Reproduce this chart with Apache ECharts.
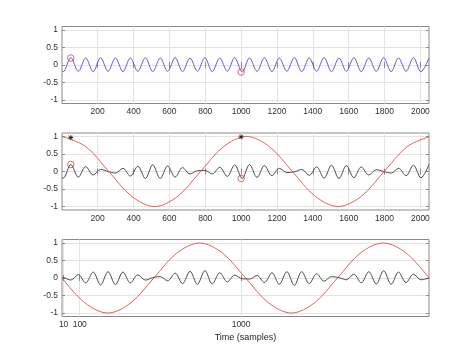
<!DOCTYPE html>
<html><head><meta charset="utf-8">
<script src="https://cdn.jsdelivr.net/npm/echarts@6/dist/echarts.min.js"></script>
<style>html,body{margin:0;padding:0;background:#fff}#c{width:474px;height:355px}</style>
</head><body><div id="c"></div>
<script>
// sample positions of the extrema of the fast oscillation
const sampleX = [1, 8, 50, 92, 133, 175, 216, 258, 299, 341, 382, 424, 466, 507, 549, 590, 632, 673, 715, 756, 798, 839, 881, 923, 964, 1006, 1047, 1089, 1130, 1172, 1213, 1255, 1297, 1338, 1380, 1421, 1463, 1504, 1546, 1587, 1629, 1670, 1712, 1754, 1795, 1837, 1878, 1920, 1961, 2003, 2048];
// panel 1: blue signal
const blueSignal = [-0.17, -0.19, 0.21, -0.18, 0.2, -0.19, 0.21, -0.18, 0.2, -0.19, 0.2, -0.18, 0.21, -0.19, 0.2, -0.18, 0.21, -0.19, 0.2, -0.18, 0.21, -0.19, 0.2, -0.18, 0.21, -0.2, 0.2, -0.18, 0.21, -0.19, 0.2, -0.18, 0.21, -0.19, 0.2, -0.18, 0.21, -0.19, 0.2, -0.18, 0.21, -0.19, 0.2, -0.18, 0.21, -0.19, 0.2, -0.18, 0.21, -0.19, 0.2];
// panel 2: black modulated signal
const black2 = [-0.17, -0.19, 0.2, -0.16, 0.14, -0.1, 0.06, 0, -0.045, 0.09, -0.13, 0.15, -0.2, 0.19, -0.2, 0.16, -0.16, 0.11, -0.07, 0.02, 0.03, -0.07, 0.12, -0.14, 0.19, -0.2, 0.2, -0.17, 0.17, -0.12, 0.09, -0.03, -0.01, 0.06, -0.11, 0.13, -0.19, 0.18, -0.2, 0.17, -0.18, 0.13, -0.1, 0.05, 0, -0.045, 0.09, -0.12, 0.18, -0.18, 0.2];
// panel 3: black modulated signal
const black3 = [0, 0.01, -0.06, 0.1, -0.14, 0.17, -0.2, 0.18, -0.19, 0.17, -0.14, 0.09, -0.06, 0.01, 0.04, -0.08, 0.14, -0.16, 0.19, -0.18, 0.21, -0.17, 0.15, -0.11, 0.08, -0.02, -0.03, 0.07, -0.13, 0.15, -0.18, 0.18, -0.21, 0.18, -0.16, 0.12, -0.09, 0.04, 0.01, -0.05, 0.11, -0.14, 0.18, -0.17, 0.21, -0.18, 0.17, -0.13, 0.11, -0.05, 0];
// red slow waves
const redX2 = [1, 134, 262, 390, 518, 646, 774, 902, 1030, 1158, 1286, 1414, 1542, 1670, 1798, 1926, 2048];
const red2 = [1, 0.71, 0, -0.71, -1, -0.71, 0, 0.71, 1, 0.71, 0, -0.71, -1, -0.71, 0, 0.71, 0.99];
const redX3 = [1, 129, 257, 385, 513, 641, 769, 897, 1025, 1153, 1281, 1409, 1537, 1665, 1793, 1921, 2048];
const red3 = [0, -0.71, -1, -0.71, 0, 0.71, 1, 0.71, 0, -0.71, -1, -0.71, 0, 0.71, 1, 0.71, 0];
// markers
const circleX = [50, 1000];
const circleY = [0.2, -0.2];
const starX = [50, 1000];
const starY = [0.97, 0.99];
// ticks
const xTicks = [200, 400, 600, 800, 1000, 1200, 1400, 1600, 1800, 2000];
const xTicks3 = [10, 100, 1000];
const yTicks = [-1, -0.5, 0, 0.5, 1];
const xLabel = 'Time (samples)';

const pairs = (xs, ys) => xs.map((x, i) => [x, ys[i]]);
const FONT = 'Liberation Sans';
const BOX = '#8a8a8a';
const GRIDC = '#e4e4e4';
const tops = [26.5, 133, 239.5];
const fmt = v => String(v);

const grids = tops.map(t => ({left: 62, width: 367, top: t, height: 77, show: true, borderColor: BOX, borderWidth: 1, containLabel: false}));

const xAxes = [], yAxes = [];
for (let g = 0; g < 3; g++) {
  const ticks = g === 2 ? xTicks3 : xTicks;
  xAxes.push({
    type: 'value', gridIndex: g, min: 1, max: 2048, position: 'bottom',
    name: g === 2 ? xLabel : '', nameLocation: 'middle', nameGap: 16.5,
    nameTextStyle: {fontFamily: FONT, fontSize: 9, color: '#262626'},
    axisLine: {show: false},
    axisTick: {show: true, inside: true, length: 3, lineStyle: {color: BOX}, customValues: ticks},
    axisLabel: {show: true, margin: 4, fontFamily: FONT, fontSize: 8.5, color: '#303030', customValues: ticks, formatter: fmt},
    splitLine: {show: true, lineStyle: {color: GRIDC, width: 1}}
  });
  xAxes.push({
    type: 'value', gridIndex: g, min: 1, max: 2048, position: 'top',
    axisLine: {show: false},
    axisTick: {show: true, inside: true, length: 3, lineStyle: {color: BOX}, customValues: ticks},
    axisLabel: {show: false, customValues: ticks},
    splitLine: {show: false}
  });
  yAxes.push({
    type: 'value', gridIndex: g, min: -1.1, max: 1.1, position: 'left',
    axisLine: {show: false},
    axisTick: {show: true, inside: true, length: 3, lineStyle: {color: BOX}, customValues: yTicks},
    axisLabel: {show: true, margin: 4, fontFamily: FONT, fontSize: 8.5, color: '#303030', customValues: yTicks, formatter: fmt},
    splitLine: {show: true, lineStyle: {color: GRIDC, width: 1}}
  });
  yAxes.push({
    type: 'value', gridIndex: g, min: -1.1, max: 1.1, position: 'right',
    axisLine: {show: false},
    axisTick: {show: true, inside: true, length: 3, lineStyle: {color: BOX}, customValues: yTicks},
    axisLabel: {show: false, customValues: yTicks},
    splitLine: {show: false}
  });
}

const lineS = (g, data, color, z) => ({
  type: 'line', xAxisIndex: g * 2, yAxisIndex: g * 2, data, showSymbol: false, symbol: 'none',
  smooth: 0.34, lineStyle: {color, width: 0.9}, z, silent: true, animation: false
});
const circles = g => ({
  type: 'scatter', xAxisIndex: g * 2, yAxisIndex: g * 2, data: pairs(circleX, circleY),
  symbol: 'circle', symbolSize: 6.5, itemStyle: {color: 'rgba(0,0,0,0)', borderColor: '#e03030', borderWidth: 0.9}, z: 10, animation: false
});
const stars = g => ({
  type: 'scatter', xAxisIndex: g * 2, yAxisIndex: g * 2, data: pairs(starX, starY),
  symbol: 'path://M0,-5L0,5M-5,0L5,0M-3.6,-3.6L3.6,3.6M-3.6,3.6L3.6,-3.6', symbolSize: 5,
  itemStyle: {color: 'rgba(0,0,0,0)', borderColor: '#111', borderWidth: 1}, z: 11, animation: false
});

const option = {
  animation: false,
  backgroundColor: '#fff',
  grid: grids,
  xAxis: xAxes,
  yAxis: yAxes,
  series: [
    lineS(0, pairs(sampleX, blueSignal), '#4c4cec', 3),
    circles(0),
    lineS(1, pairs(sampleX, black2), '#3a3a3a', 3),
    lineS(1, pairs(redX2, red2), '#ec4a4a', 4),
    circles(1),
    stars(1),
    lineS(2, pairs(sampleX, black3), '#3a3a3a', 3),
    lineS(2, pairs(redX3, red3), '#ec4a4a', 4)
  ]
};
const chart = echarts.init(document.getElementById('c'), null, {renderer: 'canvas'});
chart.setOption(option);
</script>
</body></html>
